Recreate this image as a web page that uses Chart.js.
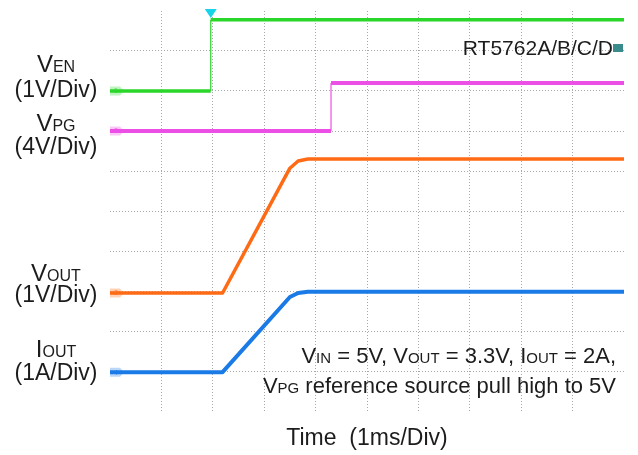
<!DOCTYPE html>
<html>
<head>
<meta charset="utf-8">
<script src="https://cdn.jsdelivr.net/npm/chart.js@4/dist/chart.umd.min.js"></script>
<style>
  html, body { margin: 0; padding: 0; background: #fff; }
  canvas { display: block; }
</style>
</head>
<body>
<canvas id="scope" width="638" height="455"></canvas>
<script>
var venTime = [0, 1.96, 1.96, 10];
var venVolts = [0, 0, 1.78, 1.78];
var vpgTime = [0, 4.3, 4.3, 10];
var vpgVolts = [0, 0, 4.8, 4.8];
var voutTime = [0, 2.19, 3.5, 3.66, 3.85, 10];
var voutVolts = [0, 0, 3.12, 3.3, 3.35, 3.35];
var ioutTime = [0, 2.19, 3.5, 3.66, 3.85, 10];
var ioutAmps = [0, 0, 1.88, 1.98, 2.01, 2.01];

// Channel setup: units per division and ground marker (divisions from bottom)
var channelNames = ['VEN', 'VPG', 'VOUT', 'IOUT'];
var channelPerDiv = [1, 4, 1, 1];
var channelGround = [8.0, 7.0, 2.95, 0.97];
var channelColors = ['#2ad62a', '#ec4fe6', '#ff6a14', '#1a7be6'];
var channelWidths = [3.5, 4, 3.5, 4];
var channelTags = ['1', '2', '3', '4'];

// Text on the picture ("~" toggles subscript)
var leftLabels = ['V~EN', '(1V/Div)', 'V~PG', '(4V/Div)', 'V~OUT', '(1V/Div)', 'I~OUT', '(1A/Div)'];
var noteLines = ['V~IN~ = 5V, V~OUT~ = 3.3V, I~OUT~ = 2A,', 'V~PG~ reference source pull high to 5V'];
var partName = 'RT5762A/B/C/D';
var timeTitle = 'Time  (1ms/Div)';
var triggerTime = 1.96;

var FONT = '"Liberation Sans", Arial, sans-serif';

function toPoints(times, vals, ch) {
    return times.map(function (t, i) {
        return { x: t, y: channelGround[ch] + vals[i] / channelPerDiv[ch] };
    });
}

var traces = [
    toPoints(venTime, venVolts, 0),
    toPoints(vpgTime, vpgVolts, 1),
    toPoints(voutTime, voutVolts, 2),
    toPoints(ioutTime, ioutAmps, 3)
];

var datasets = traces.map(function (pts, i) {
    return {
        label: channelNames[i],
        data: pts,
        borderColor: channelColors[i],
        borderWidth: channelWidths[i],
        pointRadius: 0,
        tension: 0,
        borderCapStyle: 'butt',
        borderJoinStyle: 'round',
        segment: {
            // the fast edges look thin on the scope
            borderWidth: function (c) {
                return c.p0.parsed.x === c.p1.parsed.x ? 1.2 : undefined;
            }
        }
    };
});

function drawRich(ctx, str, x, y, align, big, small) {
    var parts = str.split('~');
    var w = 0;
    parts.forEach(function (p, i) {
        ctx.font = (i % 2 ? small : big) + 'px ' + FONT;
        w += ctx.measureText(p).width;
    });
    var sx = align === 'center' ? x - w / 2 : (align === 'right' ? x - w : x);
    ctx.textAlign = 'left';
    ctx.textBaseline = 'alphabetic';
    parts.forEach(function (p, i) {
        ctx.font = (i % 2 ? small : big) + 'px ' + FONT;
        ctx.fillText(p, sx, y);
        sx += ctx.measureText(p).width;
    });
}

var decorations = {
    id: 'decorations',
    beforeDatasetsDraw: function (chart) {
        var ctx = chart.ctx;
        var ys = chart.scales.y;
        var area = chart.chartArea;
        ctx.save();
        // ground tags at the left edge
        channelGround.forEach(function (g, i) {
            var py = ys.getPixelForValue(g);
            ctx.globalAlpha = 0.3;
            ctx.fillStyle = channelColors[i];
            ctx.beginPath();
            ctx.moveTo(area.left, py - 4.5);
            ctx.lineTo(area.left + 10, py - 4.5);
            ctx.lineTo(area.left + 14, py);
            ctx.lineTo(area.left + 10, py + 4.5);
            ctx.lineTo(area.left, py + 4.5);
            ctx.closePath();
            ctx.fill();
            ctx.globalAlpha = 0.8;
            ctx.font = '7px ' + FONT;
            ctx.textAlign = 'center';
            ctx.textBaseline = 'middle';
            ctx.fillText(channelTags[i], area.left + 6, py + 0.5);
        });
        ctx.restore();
    },
    afterDatasetsDraw: function (chart) {
        var ctx = chart.ctx;
        var xs = chart.scales.x;
        var area = chart.chartArea;
        ctx.save();
        // trigger position
        var tx = xs.getPixelForValue(triggerTime);
        ctx.fillStyle = '#18d4e8';
        ctx.beginPath();
        ctx.moveTo(tx - 6, area.top - 2);
        ctx.lineTo(tx + 6, area.top - 2);
        ctx.lineTo(tx, area.top + 7);
        ctx.closePath();
        ctx.fill();

        ctx.fillStyle = '#1c1c1c';
        var lx = 56;
        var leftY = [72, 97, 131, 154, 281, 302, 357, 380];
        leftLabels.forEach(function (s, i) {
            if (i % 2 === 0) drawRich(ctx, s, lx, leftY[i], 'center', 24, 16);
            else drawRich(ctx, s, lx, leftY[i], 'center', 23, 23);
        });

        drawRich(ctx, partName, area.right - 11, 55, 'right', 21, 21);
        ctx.fillStyle = '#3a8c8c';
        ctx.fillRect(area.right - 11, 44, 10, 8);

        ctx.fillStyle = '#1c1c1c';
        drawRich(ctx, noteLines[0], 616, 363, 'right', 22, 15);
        drawRich(ctx, noteLines[1], 616, 393, 'right', 22, 15);

        drawRich(ctx, timeTitle, (area.left + area.right) / 2, 445, 'center', 23, 23);
        ctx.restore();
    }
};

function gridColor(c) {
    if (!c.tick) return '#a8a8a8';
    var v = c.tick.value;
    return (v <= 0 || v >= 10) ? 'rgba(0,0,0,0)' : '#a8a8a8';
}

var axisBase = {
    type: 'linear',
    min: 0,
    max: 10,
    ticks: { display: false, stepSize: 1 },
    grid: { color: gridColor, lineWidth: 1, drawTicks: false },
    border: { display: false, dash: [1, 2] }
};

new Chart(document.getElementById('scope').getContext('2d'), {
    type: 'line',
    data: { datasets: datasets },
    options: {
        responsive: false,
        animation: false,
        layout: { padding: { left: 110, right: 14, top: 11, bottom: 44 } },
        plugins: { legend: { display: false }, tooltip: { enabled: false } },
        scales: {
            x: Object.assign({}, axisBase),
            y: Object.assign({}, axisBase)
        }
    },
    plugins: [decorations]
});
</script>
</body>
</html>
